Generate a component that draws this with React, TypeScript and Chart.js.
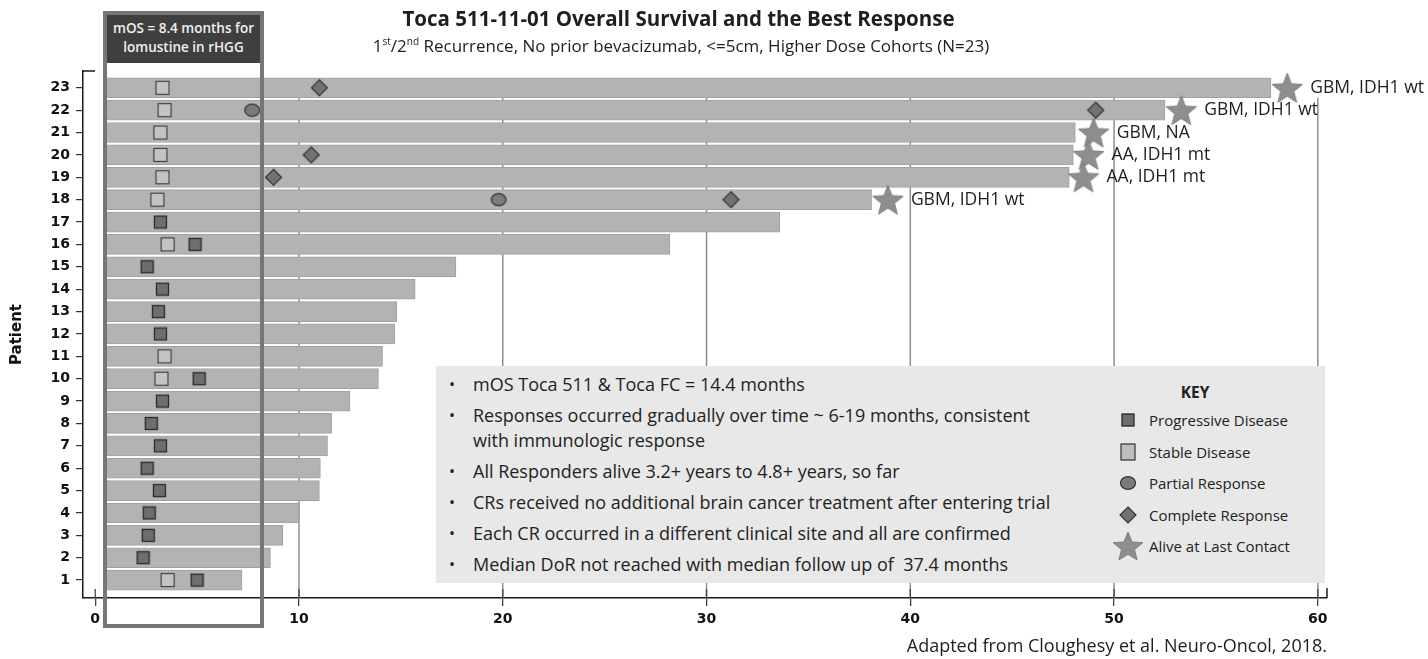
import React, { useEffect, useRef } from 'react';
import { Chart, registerables } from 'chart.js';

Chart.register(...registerables);

// ---------------- data ----------------
const patients = [1, 2, 3, 4, 5, 6, 7, 8, 9, 10, 11, 12, 13, 14, 15, 16, 17, 18, 19, 20, 21, 22, 23];
const survivalMonths = [7.2, 8.6, 9.2, 10.0, 11.0, 11.05, 11.4, 11.6, 12.5, 13.9, 14.1, 14.7, 14.8, 15.7, 17.7, 28.2, 33.6, 38.1, 47.8, 48.0, 48.1, 52.5, 57.7];
const treatmentStart = 0.55;
const xTickValues = [0, 10, 20, 30, 40, 50, 60];

const stablePatients = [23, 22, 21, 20, 19, 18, 16, 11, 10, 1];
const stableMonths = [3.3, 3.4, 3.2, 3.2, 3.3, 3.05, 3.55, 3.4, 3.25, 3.55];

const progressivePatients = [17, 16, 15, 14, 13, 12, 10, 9, 8, 7, 6, 5, 4, 3, 2, 1];
const progressiveMonths = [3.2, 4.9, 2.55, 3.3, 3.1, 3.2, 5.1, 3.3, 2.75, 3.2, 2.55, 3.15, 2.65, 2.6, 2.35, 5.0];

const partialPatients = [22, 18];
const partialMonths = [7.7, 19.8];

const completePatients = [23, 22, 20, 19, 18];
const completeMonths = [11.0, 49.1, 10.6, 8.75, 31.2];

const alivePatients = [23, 22, 21, 20, 19, 18];
const aliveMonths = [58.5, 53.3, 49.0, 48.75, 48.5, 38.9];
const aliveLabels = ['GBM, IDH1 wt', 'GBM, IDH1 wt', 'GBM, NA', 'AA, IDH1 mt', 'AA, IDH1 mt', 'GBM, IDH1 wt'];

const titleText = 'Toca 511-11-01 Overall Survival and the Best Response';
const footnoteText = 'Adapted from Cloughesy et al. Neuro-Oncol, 2018.';
const mosBoxLines = ['mOS = 8.4 months for', 'lomustine in rHGG'];
const bulletPoints = [
  'mOS Toca 511 & Toca FC = 14.4 months',
  'Responses occurred gradually over time ~ 6-19 months, consistent\nwith immunologic response',
  'All Responders alive 3.2+ years to 4.8+ years, so far',
  'CRs received no additional brain cancer treatment after entering trial',
  'Each CR occurred in a different clinical site and all are confirmed',
  'Median DoR not reached with median follow up of  37.4 months',
];
const keyLabels = ['Progressive Disease', 'Stable Disease', 'Partial Response', 'Complete Response', 'Alive at Last Contact'];

// ---------------- helpers ----------------
function starPoints(cx: number, cy: number, R: number, r: number) {
  const pts: number[][] = [];
  for (let i = 0; i < 10; i++) {
    const a = -Math.PI / 2 + (i * Math.PI) / 5;
    const rad = i % 2 === 0 ? R : r;
    pts.push([cx + rad * Math.cos(a), cy + rad * Math.sin(a)]);
  }
  return pts;
}

function makeCanvas(w: number, h: number, draw: (g: CanvasRenderingContext2D) => void) {
  const c = document.createElement('canvas');
  c.width = w;
  c.height = h;
  const g = c.getContext('2d') as CanvasRenderingContext2D;
  draw(g);
  return c;
}

const FONT_UI = '"Open Sans", "Noto Sans", sans-serif';
const FONT_AX = '"DejaVu Sans", "Liberation Sans", Arial, sans-serif';

const decorPlugin = {
  id: 'decor',
  beforeDatasetsDraw(chart: any) {
    const { ctx, scales, chartArea } = chart;
    const x = scales.x;
    const y = scales.y;
    ctx.save();
    ctx.strokeStyle = '#8e8e8e';
    ctx.lineWidth = 1.5;
    const top = y.getPixelForValue(22.55);
    xTickValues.forEach((v) => {
      if (v === 0) return;
      const px = x.getPixelForValue(v);
      ctx.beginPath();
      ctx.moveTo(px, top);
      ctx.lineTo(px, chartArea.bottom);
      ctx.stroke();
    });
    ctx.restore();
  },
  afterDatasetsDraw(chart: any) {
    const { ctx, scales } = chart;
    const x = scales.x;
    const y = scales.y;
    ctx.save();
    ctx.font = '17.5px ' + FONT_UI;
    ctx.fillStyle = '#1e1e1e';
    ctx.textBaseline = 'middle';
    ctx.textAlign = 'left';
    alivePatients.forEach((p, i) => {
      ctx.fillText(aliveLabels[i], x.getPixelForValue(aliveMonths[i]) + 23, y.getPixelForValue(p));
    });
    ctx.restore();
  },
  afterDraw(chart: any) {
    const { ctx, scales, chartArea } = chart;
    const x = scales.x;
    ctx.save();
    ctx.strokeStyle = '#444';
    ctx.lineWidth = 1.3;
    xTickValues.forEach((v) => {
      const px = x.getPixelForValue(v);
      ctx.beginPath();
      ctx.moveTo(px, chartArea.bottom - 9);
      ctx.lineTo(px, chartArea.bottom);
      ctx.stroke();
    });
    ctx.strokeStyle = '#1a1a1a';
    ctx.lineWidth = 1.5;
    ctx.beginPath();
    ctx.moveTo(chartArea.right, chartArea.bottom);
    ctx.lineTo(chartArea.right, chartArea.bottom - 10);
    ctx.stroke();
    ctx.beginPath();
    ctx.moveTo(chartArea.left, chartArea.top);
    ctx.lineTo(chartArea.left + 12, chartArea.top);
    ctx.stroke();
    ctx.restore();
  },
};

function KeyMarker({ kind }: { kind: number }) {
  if (kind === 0) return (<svg width="36" height="36"><rect x="12" y="12" width="12" height="12" fill="#6e6e6e" stroke="#2a2a2a" strokeWidth="1.3" /></svg>);
  if (kind === 1) return (<svg width="36" height="36"><rect x="11" y="10" width="14" height="16" fill="#bdbdbd" stroke="#333" strokeWidth="1.2" /></svg>);
  if (kind === 2) return (<svg width="36" height="36"><ellipse cx="18" cy="18" rx="7.5" ry="6.3" fill="#7b7b7b" stroke="#333" strokeWidth="1.2" /></svg>);
  if (kind === 3) return (<svg width="36" height="36"><polygon points="18,10 26,18 18,26 10,18" fill="#727272" stroke="#333" strokeWidth="1.2" /></svg>);
  const pts = starPoints(18, 19.5, 15.5, 6.8).map((p) => p.join(',')).join(' ');
  return (<svg width="36" height="36"><polygon points={pts} fill="#8e8e8e" stroke="#7d7d7d" strokeWidth="1" /></svg>);
}

export default function App() {
  const canvasRef = useRef<HTMLCanvasElement | null>(null);

  useEffect(() => {
    document.body.style.margin = '0';
    const canvas = canvasRef.current;
    if (!canvas) return;

    const stableImg = makeCanvas(16, 16, (g) => {
      g.fillStyle = '#c4c4c4';
      g.strokeStyle = '#3a3a3a';
      g.lineWidth = 1.1;
      g.fillRect(1.5, 1.5, 13, 13);
      g.strokeRect(1.5, 1.5, 13, 13);
    });
    const progImg = makeCanvas(15, 15, (g) => {
      g.fillStyle = '#6e6e6e';
      g.strokeStyle = '#2a2a2a';
      g.lineWidth = 1.3;
      g.fillRect(1.5, 1.5, 12, 12);
      g.strokeRect(1.5, 1.5, 12, 12);
    });
    const partialImg = makeCanvas(18, 15, (g) => {
      g.fillStyle = '#7b7b7b';
      g.strokeStyle = '#333';
      g.lineWidth = 1.2;
      g.beginPath();
      g.ellipse(9, 7.5, 7.4, 6.1, 0, 0, Math.PI * 2);
      g.fill();
      g.stroke();
    });
    const completeImg = makeCanvas(19, 19, (g) => {
      g.fillStyle = '#727272';
      g.strokeStyle = '#333';
      g.lineWidth = 1.2;
      g.beginPath();
      g.moveTo(9.5, 1.5);
      g.lineTo(17.5, 9.5);
      g.lineTo(9.5, 17.5);
      g.lineTo(1.5, 9.5);
      g.closePath();
      g.fill();
      g.stroke();
    });
    const starImg = makeCanvas(34, 34, (g) => {
      const pts = starPoints(17, 18.5, 16, 6.9);
      g.fillStyle = '#8e8e8e';
      g.strokeStyle = '#7d7d7d';
      g.lineWidth = 1;
      g.beginPath();
      pts.forEach((p, i) => (i === 0 ? g.moveTo(p[0], p[1]) : g.lineTo(p[0], p[1])));
      g.closePath();
      g.fill();
      g.stroke();
    });

    const pts = (ps: number[], ms: number[]) => ps.map((p, i) => ({ x: ms[i], y: p }));

    const chart = new Chart(canvas, {
      type: 'bar',
      data: {
        datasets: [
          {
            type: 'bar',
            label: 'Overall survival',
            indexAxis: 'y',
            data: patients.map((p, i) => ({ y: p, x: [treatmentStart, survivalMonths[i]] })) as any,
            backgroundColor: '#b3b3b3',
            borderColor: '#a0a0a0',
            borderWidth: 1,
            borderSkipped: false,
            barThickness: 20,
            order: 10,
          } as any,
          { type: 'scatter', label: 'Stable Disease', data: pts(stablePatients, stableMonths), pointStyle: stableImg, pointRadius: 5, order: 4 } as any,
          { type: 'scatter', label: 'Progressive Disease', data: pts(progressivePatients, progressiveMonths), pointStyle: progImg, pointRadius: 5, order: 3 } as any,
          { type: 'scatter', label: 'Partial Response', data: pts(partialPatients, partialMonths), pointStyle: partialImg, pointRadius: 5, order: 2 } as any,
          { type: 'scatter', label: 'Complete Response', data: pts(completePatients, completeMonths), pointStyle: completeImg, pointRadius: 5, order: 1 } as any,
          { type: 'scatter', label: 'Alive at Last Contact', data: pts(alivePatients, aliveMonths), pointStyle: starImg, pointRadius: 5, order: 0 } as any,
        ],
      },
      options: {
        responsive: false,
        animation: false,
        events: [],
        layout: { padding: { top: 71, right: 101, left: 0, bottom: 0 } },
        plugins: { legend: { display: false }, tooltip: { enabled: false }, title: { display: false } },
        scales: {
          x: {
            type: 'linear',
            offset: false,
            min: -0.6,
            max: 60.45,
            afterBuildTicks: (s: any) => { s.ticks = xTickValues.map((v) => ({ value: v })); },
            afterFit: (s: any) => { s.height = 61; },
            grid: { display: true, offset: false, drawOnChartArea: false, drawTicks: true, tickLength: 8, color: '#444', lineWidth: 1.3 },
            border: { display: true, color: '#1a1a1a', width: 1.5 },
            ticks: { font: { family: FONT_AX, weight: 'bold', size: 14 }, color: '#111', padding: 5, autoSkip: false, maxRotation: 0 },
          },
          y: {
            type: 'linear',
            offset: false,
            min: 0.2,
            max: 23.75,
            afterBuildTicks: (s: any) => { s.ticks = patients.map((v) => ({ value: v })); },
            afterFit: (s: any) => { s.width = 83; },
            grid: { display: true, offset: false, drawOnChartArea: false, drawTicks: true, tickLength: 7, color: '#333', lineWidth: 1.2 },
            border: { display: true, color: '#1a1a1a', width: 1.5 },
            ticks: { font: { family: FONT_AX, weight: 'bold', size: 14 }, color: '#111', padding: 6, autoSkip: false },
            title: { display: true, text: 'Patient', font: { family: FONT_AX, weight: 'bold', size: 15 }, color: '#111', padding: { top: 8, bottom: 0 } },
          },
        },
      } as any,
      plugins: [decorPlugin as any],
    });

    return () => chart.destroy();
  }, []);

  return (
    <div style={{ position: 'relative', width: 1428, height: 659, background: '#fff', overflow: 'hidden', fontFamily: FONT_UI, color: '#222' }}>
      <canvas ref={canvasRef} width={1428} height={659} style={{ position: 'absolute', left: 0, top: 0 }} />

      <div style={{ position: 'absolute', left: 0, width: 1357, top: 5, textAlign: 'center', fontSize: 20.5, fontWeight: 700, lineHeight: '26px', color: '#1e1e1e', whiteSpace: 'nowrap' }}>
        {titleText}
      </div>
      <div style={{ position: 'absolute', left: 0, width: 1362, top: 35, textAlign: 'center', fontSize: 17, lineHeight: '22px', color: '#1e1e1e', whiteSpace: 'nowrap' }}>
        1<sup style={{ fontSize: 10, lineHeight: 0 }}>st</sup>/2<sup style={{ fontSize: 10, lineHeight: 0 }}>nd</sup> Recurrence, No prior bevacizumab, &lt;=5cm, Higher Dose Cohorts (N=23)
      </div>

      <div style={{ position: 'absolute', left: 103, top: 11, width: 161, height: 617, border: '4px solid #767676', boxSizing: 'border-box' }}>
        <div style={{ background: '#3f3f3f', height: 48, color: '#f0f0f0', fontSize: 13.5, fontWeight: 600, textAlign: 'center', lineHeight: '19px', paddingTop: 4, boxSizing: 'border-box', whiteSpace: 'nowrap' }}>
          {mosBoxLines[0]}<br />{mosBoxLines[1]}
        </div>
      </div>

      <div style={{ position: 'absolute', left: 436, top: 366, width: 889, height: 217, background: '#e8e8e8' }}>
        <div style={{ position: 'absolute', left: 13, top: 6 }}>
          {bulletPoints.map((b, i) => (
            <div key={i} style={{ display: 'flex', fontSize: 18, lineHeight: '25px', marginBottom: 6, whiteSpace: 'pre' }}>
              <div style={{ width: 24, fontSize: 16 }}>•</div>
              <div>{b}</div>
            </div>
          ))}
        </div>
        <div style={{ position: 'absolute', left: 700, width: 118, top: 14, textAlign: 'center', fontSize: 15.5, fontWeight: 700, lineHeight: '24px' }}>KEY</div>
        {keyLabels.map((k, i) => (
          <div key={k}>
            <div style={{ position: 'absolute', left: 674, top: 54 + i * 31.5 - 18, width: 36, height: 36 }}>
              <KeyMarker kind={i} />
            </div>
            <div style={{ position: 'absolute', left: 713, top: 54 + i * 31.5 - 12, fontSize: 15, lineHeight: '24px', whiteSpace: 'nowrap' }}>{k}</div>
          </div>
        ))}
      </div>

      <div style={{ position: 'absolute', right: 101, top: 632, fontSize: 18, lineHeight: '26px', whiteSpace: 'nowrap', color: '#1e1e1e' }}>
        {footnoteText}
      </div>
    </div>
  );
}
